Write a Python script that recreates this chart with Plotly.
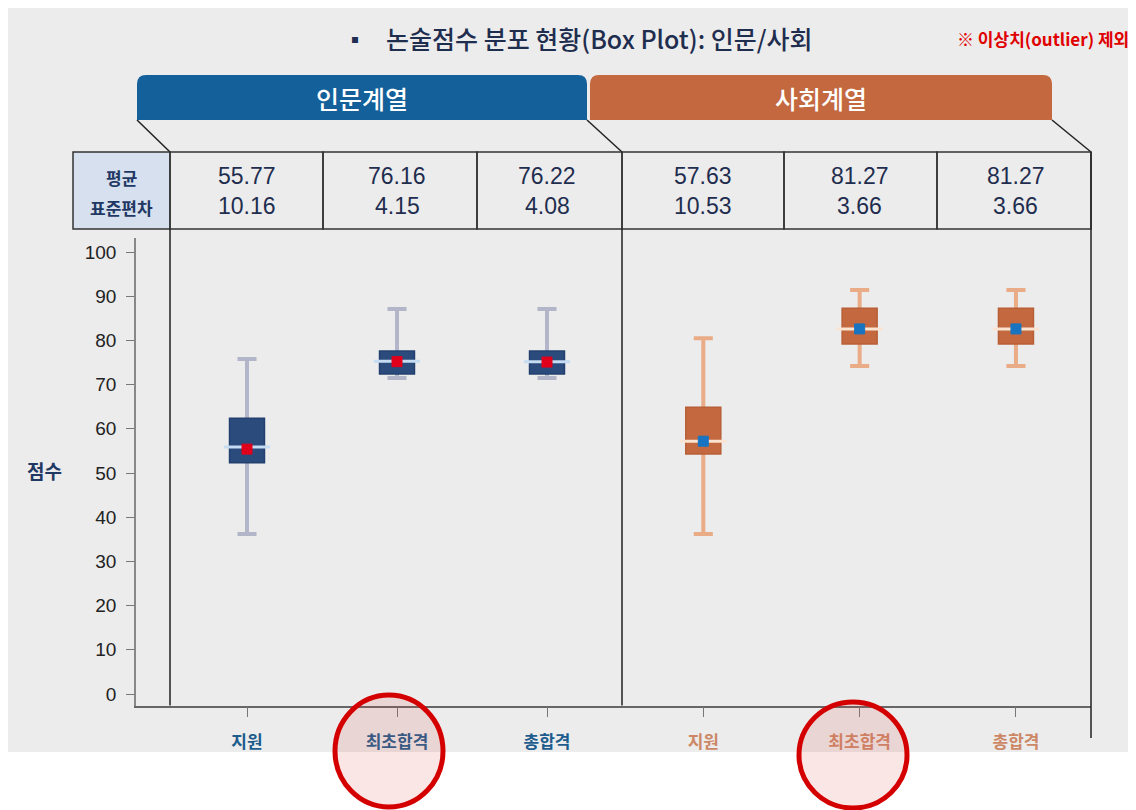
import plotly.graph_objects as go

# page body has an 8px margin, so the figure starts at (8, 8) in the window
OFF = 8
W, H = 1136 - OFF, 810 - OFF


def px(x):
    return max(x - OFF, 0) / W


def py(y):
    return 1 - max(y - OFF, 0) / H


# ---------------- data ----------------
categories = ["지원", "최초합격", "총합격"]
groups = ["인문계열", "사회계열"]

# 인문계열 box statistics
hum_low = [36.2, 71.5, 71.5]
hum_q1 = [52.3, 72.4, 72.4]
hum_med = [55.9, 75.3, 75.2]
hum_q3 = [62.4, 77.6, 77.6]
hum_up = [75.8, 87.1, 87.1]
hum_marker = [55.4, 75.2, 75.1]

# 사회계열 box statistics
soc_low = [36.2, 74.2, 74.2]
soc_q1 = [54.3, 79.2, 79.2]
soc_med = [57.2, 82.6, 82.6]
soc_q3 = [64.9, 87.3, 87.3]
soc_up = [80.5, 91.4, 91.4]
soc_marker = [57.2, 82.6, 82.6]

# table values
hum_mean = [55.77, 76.16, 76.22]
hum_sd = [10.16, 4.15, 4.08]
soc_mean = [57.63, 81.27, 81.27]
soc_sd = [10.53, 3.66, 3.66]

y_ticks = list(range(0, 101, 10))

KR = "Noto Sans CJK KR"
NUM = "Liberation Sans"
NAVY = "#1f2d4f"

fig = go.Figure()


def add_group(xa, low, q1, med, q3, up, mark, fill, edge, whisk, medc, markc, box_w, cap_w):
    # whiskers (collapsed box at median so only whiskers + caps show)
    fig.add_trace(go.Box(
        x=categories, q1=med, median=med, q3=med, lowerfence=low, upperfence=up,
        width=cap_w, whiskerwidth=1, line=dict(color=whisk, width=4),
        fillcolor="rgba(0,0,0,0)", boxpoints=False, xaxis=xa, yaxis="y",
        showlegend=False, hoverinfo="skip"))
    # box body
    fig.add_trace(go.Box(
        x=categories, q1=q1, median=med, q3=q3, lowerfence=q1, upperfence=q3,
        width=box_w, whiskerwidth=0, line=dict(color=edge, width=1.5),
        fillcolor=fill, boxpoints=False, xaxis=xa, yaxis="y",
        showlegend=False, hoverinfo="skip"))
    # median line
    fig.add_trace(go.Scatter(
        x=categories, y=med, mode="markers", xaxis=xa, yaxis="y",
        marker=dict(symbol="line-ew", size=33, line=dict(color=medc, width=3)),
        showlegend=False, hoverinfo="skip"))
    # mean marker
    fig.add_trace(go.Scatter(
        x=categories, y=mark, mode="markers", xaxis=xa, yaxis="y",
        marker=dict(symbol="square", size=10, color=markc, line=dict(color=markc, width=1)),
        showlegend=False, hoverinfo="skip"))


add_group("x", hum_low, hum_q1, hum_med, hum_q3, hum_up, hum_marker,
          "#2c4b7d", "#22406f", "#b3b6c9", "#c5dcf2", "#e0001b", 0.233, 0.127)
add_group("x2", soc_low, soc_q1, soc_med, soc_q3, soc_up, soc_marker,
          "#c4683f", "#b85f38", "#e9ac87", "#fbe3d2", "#1874c0", 0.224, 0.122)

shapes = []
# background panel
shapes.append(dict(type="rect", xref="paper", yref="paper", x0=0, x1=1, y0=py(752), y1=1,
                   fillcolor="#ececec", line=dict(width=0), layer="below"))


def rtop(x0, x1, y0, y1, r):
    return (f"M {px(x0)},{py(y1)} L {px(x0)},{py(y0 + r)} Q {px(x0)},{py(y0)} {px(x0 + r)},{py(y0)} "
            f"L {px(x1 - r)},{py(y0)} Q {px(x1)},{py(y0)} {px(x1)},{py(y0 + r)} L {px(x1)},{py(y1)} Z")


# header bars
shapes.append(dict(type="path", xref="paper", yref="paper", path=rtop(137, 587, 75, 120, 9),
                   fillcolor="#14609a", line=dict(width=0)))
shapes.append(dict(type="path", xref="paper", yref="paper", path=rtop(590, 1052, 75, 120, 9),
                   fillcolor="#c3683f", line=dict(width=0)))

LINE = dict(color="#222222", width=1.5)
# diagonal connectors
for (xa, ya, xb, yb) in [(137, 120, 170, 152), (587, 120, 622, 152), (1052, 120, 1091, 152)]:
    shapes.append(dict(type="line", xref="paper", yref="paper", x0=px(xa), y0=py(ya), x1=px(xb), y1=py(yb),
                       line=LINE))

# table
shapes.append(dict(type="rect", xref="paper", yref="paper", x0=px(73), x1=px(170), y0=py(229), y1=py(152),
                   fillcolor="#d6e0ee", line=dict(color="#333333", width=1.5)))
cols = [170, 323, 477, 622, 784, 937, 1091]
for a, b in zip(cols[:-1], cols[1:]):
    shapes.append(dict(type="rect", xref="paper", yref="paper", x0=px(a), x1=px(b), y0=py(229), y1=py(152),
                       line=dict(color="#333333", width=1.5)))

# panel vertical lines
for (x, ya, yb) in [(170, 229, 705.5), (622, 229, 705.5), (1091, 152, 738)]:
    shapes.append(dict(type="line", xref="paper", yref="paper", x0=px(x), x1=px(x), y0=py(ya), y1=py(yb),
                       line=LINE))

# red highlight circles
for (x0, x1, y0, y1) in [(335, 443, 695, 807), (799, 907, 702, 808)]:
    shapes.append(dict(type="circle", xref="paper", yref="paper", x0=px(x0), x1=px(x1), y0=py(y1), y1=py(y0),
                       fillcolor="rgba(225,80,80,0.14)", line=dict(color="#d40000", width=5)))

ann = []
ann.append(dict(text="▪", xref="paper", yref="paper",
                x=px(355), y=py(38), showarrow=False, xanchor="center", yanchor="middle",
                font=dict(family=KR, size=22, color=NAVY)))
ann.append(dict(text="논술점수 분포 현황(Box Plot): 인문/사회", xref="paper", yref="paper",
                x=px(384), y=py(38), showarrow=False, xanchor="left", yanchor="middle",
                font=dict(family=KR, size=25, color=NAVY, weight=500)))
ann.append(dict(text="※ 이상치(outlier) 제외", xref="paper", yref="paper",
                x=px(1131), y=py(38), showarrow=False, xanchor="right", yanchor="middle",
                font=dict(family=KR, size=17, color="#e00000", weight="bold")))
for g, cx in zip(groups, [362, 821]):
    ann.append(dict(text=g, xref="paper", yref="paper", x=px(cx), y=py(98), showarrow=False,
                    xanchor="center", yanchor="middle",
                    font=dict(family=KR, size=25, color="white", weight=500)))
ann.append(dict(text="평균", xref="paper", yref="paper", x=px(122), y=py(177), showarrow=False,
                xanchor="center", yanchor="middle", font=dict(family=KR, size=17, color="#1f3864", weight="bold")))
ann.append(dict(text="표준편차", xref="paper", yref="paper", x=px(122), y=py(207), showarrow=False,
                xanchor="center", yanchor="middle", font=dict(family=KR, size=17, color="#1f3864", weight="bold")))
for xa, means, sds in [("x", hum_mean, hum_sd), ("x2", soc_mean, soc_sd)]:
    for c, m, s in zip(categories, means, sds):
        ann.append(dict(text=f"{m:.2f}", xref=xa, yref="paper", x=c, y=py(176), showarrow=False,
                        xanchor="center", yanchor="middle", font=dict(family=NUM, size=23, color=NAVY)))
        ann.append(dict(text=f"{s:.2f}", xref=xa, yref="paper", x=c, y=py(206), showarrow=False,
                        xanchor="center", yanchor="middle", font=dict(family=NUM, size=23, color=NAVY)))
ann.append(dict(text="점수", xref="paper", yref="paper", x=px(44), y=py(470), showarrow=False,
                xanchor="center", yanchor="middle", font=dict(family=KR, size=19, color="#1f3864", weight="bold")))

common_x = dict(type="category", showline=True, linecolor="#666666", linewidth=1.5, ticks="outside",
                ticklen=10, tickcolor="#777777", tickwidth=1, showgrid=False, zeroline=False,
                anchor="y", ticklabelstandoff=10, fixedrange=True)

fig.update_layout(
    width=W, height=H, margin=dict(l=0, r=0, t=0, b=0),
    paper_bgcolor="white", plot_bgcolor="rgba(0,0,0,0)",
    showlegend=False, boxmode="overlay",
    xaxis=dict(domain=[px(136), px(622)], range=[-0.74, 2.5],
               tickfont=dict(family=KR, size=17, color="#1d5c8c", weight="bold"), **common_x),
    xaxis2=dict(domain=[px(622), px(1091)], range=[-0.52, 2.48],
                tickfont=dict(family=KR, size=17, color="#cc8866", weight="bold"), **common_x),
    yaxis=dict(domain=[py(705.5), py(238)], range=[-2.6, 103.17], anchor="x",
               showline=True, linecolor="#888888", linewidth=1.5, ticks="outside", ticklen=8,
               tickcolor="#777777", tickvals=y_ticks, showgrid=False, zeroline=False,
               ticklabelstandoff=6,
               tickfont=dict(family=NUM, size=19, color="#222222"), fixedrange=True),
    shapes=shapes, annotations=ann,
)

fig.write_html("out.html")
